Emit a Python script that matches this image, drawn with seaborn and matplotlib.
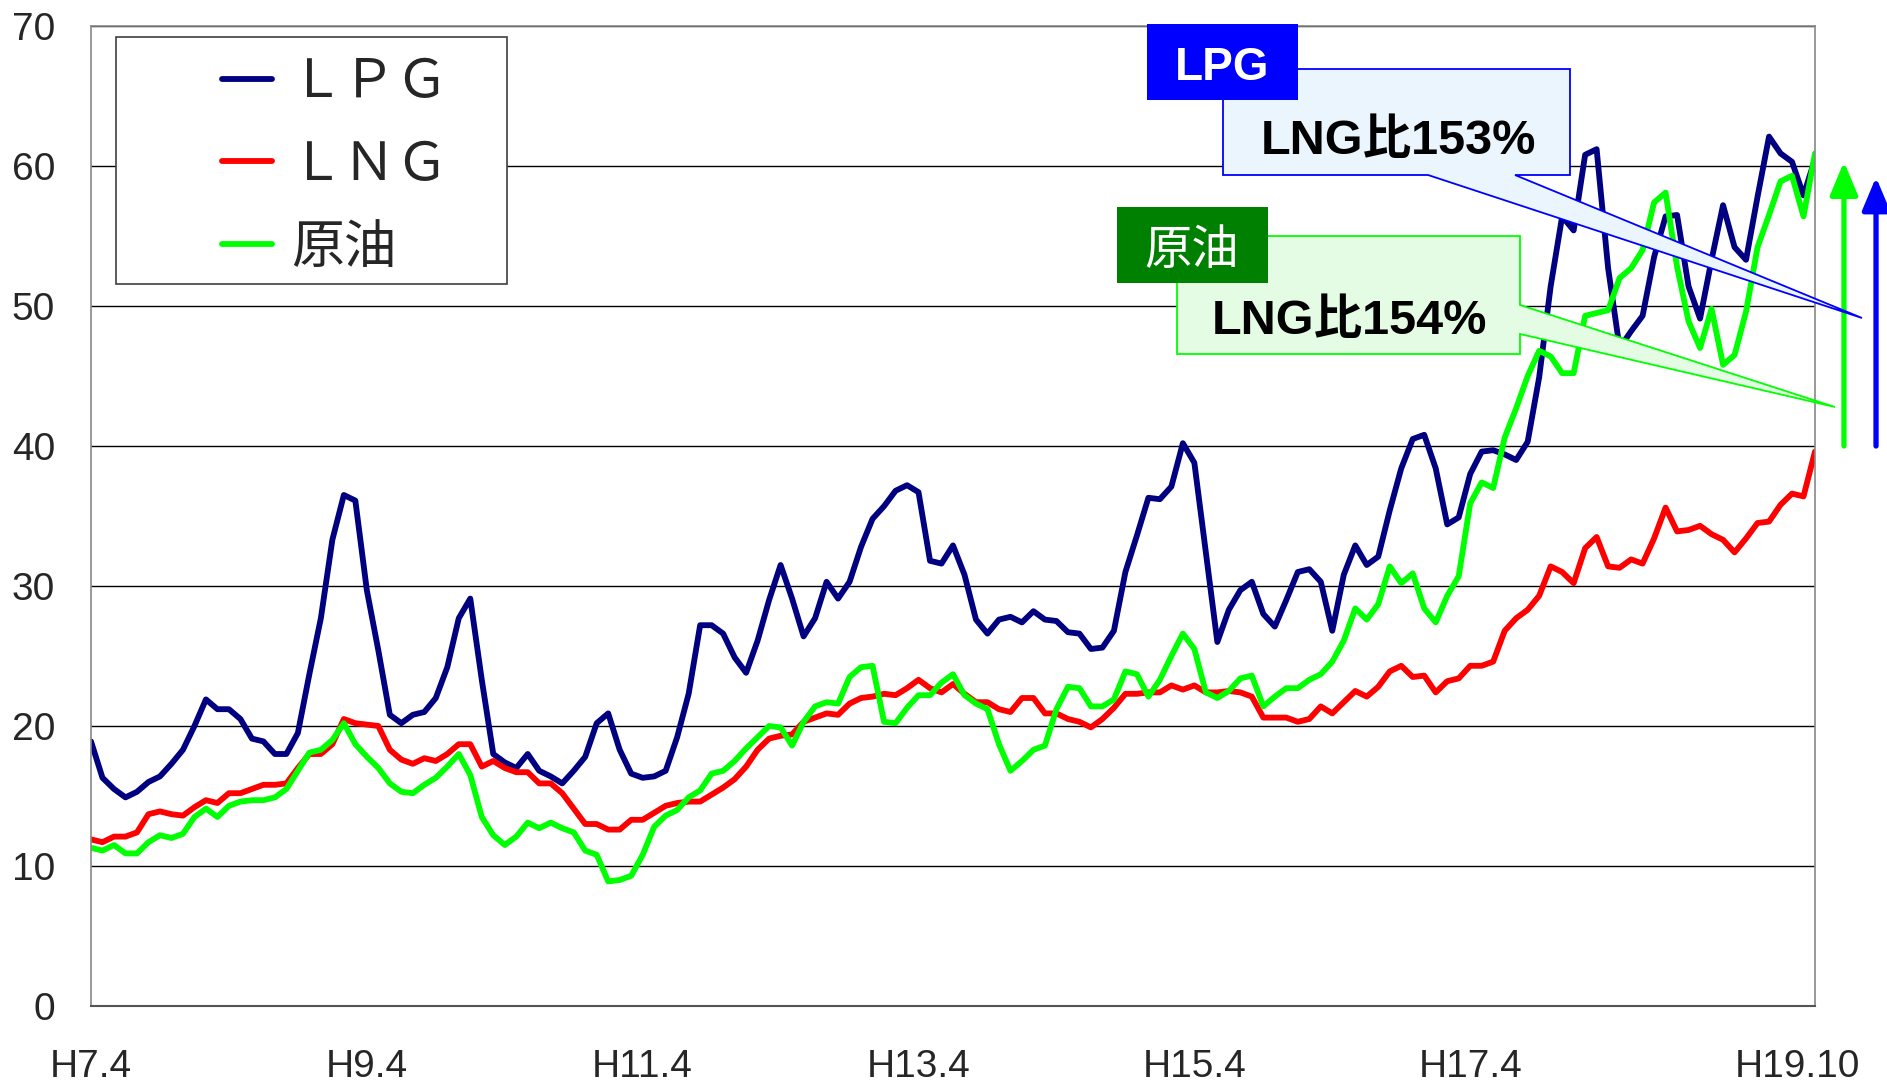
import numpy as np
import pandas as pd
import matplotlib
matplotlib.use('Agg')
import matplotlib.pyplot as plt
from matplotlib.patches import Polygon, Rectangle
from matplotlib.lines import Line2D
from matplotlib.transforms import Affine2D
from matplotlib.font_manager import FontProperties
import seaborn as sns

# monthly index, H7.4 (0) .. H19.10 (150)
months = np.arange(151)

lpg = [18.9, 16.3, 15.5, 14.9, 15.3, 16.0, 16.4, 17.3, 18.3, 20.0,
       21.9, 21.2, 21.2, 20.5, 19.1, 18.9, 18.0, 18.0, 19.5, 23.7,
       27.7, 33.3, 36.5, 36.1, 29.7, 25.4, 20.8, 20.2, 20.8, 21.0,
       22.0, 24.2, 27.7, 29.1, 23.3, 18.0, 17.4, 17.0, 18.0, 16.8,
       16.4, 15.9, 16.8, 17.8, 20.2, 20.9, 18.3, 16.6, 16.3, 16.4,
       16.8, 19.2, 22.3, 27.2, 27.2, 26.6, 24.9, 23.8, 26.1, 29.0,
       31.5, 29.1, 26.4, 27.7, 30.3, 29.1, 30.3, 32.8, 34.8, 35.7,
       36.8, 37.2, 36.7, 31.8, 31.6, 32.9, 30.8, 27.6, 26.6, 27.6,
       27.8, 27.4, 28.2, 27.6, 27.5, 26.7, 26.6, 25.5, 25.6, 26.8,
       31.0, 33.6, 36.3, 36.2, 37.1, 40.2, 38.8, 32.4, 26.0, 28.3,
       29.7, 30.3, 28.0, 27.1, 29.0, 31.0, 31.2, 30.3, 26.8, 30.8,
       32.9, 31.5, 32.1, 35.4, 38.4, 40.5, 40.8, 38.4, 34.4, 34.9,
       38.0, 39.6, 39.7, 39.4, 39.0, 40.3, 44.9, 51.4, 56.4, 55.4,
       60.8, 61.2, 52.7, 47.0, 48.2, 49.3, 53.5, 56.4, 56.5, 51.4,
       49.1, 53.3, 57.2, 54.2, 53.3, 57.8, 62.1, 60.9, 60.3, 57.9,
       60.5]

lng = [11.9, 11.7, 12.1, 12.1, 12.4, 13.7, 13.9, 13.7, 13.6, 14.2,
       14.7, 14.5, 15.2, 15.2, 15.5, 15.8, 15.8, 15.9, 17.0, 18.0,
       18.0, 18.7, 20.5, 20.2, 20.1, 20.0, 18.3, 17.6, 17.3, 17.7,
       17.5, 18.0, 18.7, 18.7, 17.1, 17.5, 17.0, 16.7, 16.7, 15.9,
       15.9, 15.2, 14.1, 13.0, 13.0, 12.6, 12.6, 13.3, 13.3, 13.8,
       14.3, 14.5, 14.6, 14.6, 15.1, 15.6, 16.2, 17.1, 18.3, 19.1,
       19.3, 19.4, 20.3, 20.6, 20.9, 20.8, 21.6, 22.0, 22.1, 22.3,
       22.2, 22.7, 23.3, 22.7, 22.4, 23.0, 22.3, 21.7, 21.7, 21.2,
       21.0, 22.0, 22.0, 20.9, 20.9, 20.5, 20.3, 19.9, 20.5, 21.3,
       22.3, 22.3, 22.4, 22.4, 22.9, 22.6, 22.9, 22.4, 22.4, 22.5,
       22.4, 22.1, 20.6, 20.6, 20.6, 20.3, 20.5, 21.4, 20.9, 21.7,
       22.5, 22.1, 22.8, 23.9, 24.3, 23.5, 23.6, 22.4, 23.2, 23.4,
       24.3, 24.3, 24.6, 26.8, 27.7, 28.3, 29.3, 31.4, 31.0, 30.2,
       32.7, 33.5, 31.4, 31.3, 31.9, 31.6, 33.4, 35.6, 33.9, 34.0,
       34.3, 33.7, 33.3, 32.4, 33.4, 34.5, 34.6, 35.8, 36.6, 36.4,
       39.6]

crude = [11.3, 11.1, 11.5, 10.9, 10.9, 11.7, 12.2, 12.0, 12.3, 13.5,
         14.1, 13.5, 14.3, 14.6, 14.7, 14.7, 14.9, 15.5, 16.8, 18.1,
         18.3, 19.0, 20.2, 18.7, 17.8, 17.0, 15.9, 15.3, 15.2, 15.8,
         16.3, 17.1, 18.0, 16.5, 13.5, 12.2, 11.5, 12.1, 13.1, 12.7,
         13.1, 12.7, 12.4, 11.1, 10.8, 8.9, 9.0, 9.3, 10.8, 12.8,
         13.6, 14.0, 14.9, 15.4, 16.6, 16.8, 17.5, 18.4, 19.2, 20.0,
         19.9, 18.6, 20.3, 21.4, 21.7, 21.6, 23.5, 24.2, 24.3, 20.3,
         20.2, 21.3, 22.2, 22.2, 23.1, 23.7, 22.2, 21.6, 21.2, 18.7,
         16.8, 17.5, 18.3, 18.6, 21.2, 22.8, 22.7, 21.4, 21.4, 21.9,
         23.9, 23.7, 22.1, 23.3, 25.0, 26.6, 25.5, 22.4, 22.0, 22.5,
         23.4, 23.6, 21.4, 22.1, 22.7, 22.7, 23.3, 23.7, 24.6, 26.1,
         28.4, 27.6, 28.7, 31.4, 30.2, 30.9, 28.4, 27.4, 29.3, 30.7,
         35.9, 37.4, 37.0, 40.6, 42.7, 45.0, 46.8, 46.4, 45.2, 45.2,
         49.3, 49.5, 49.7, 52.0, 52.7, 54.0, 57.4, 58.1, 52.8, 48.9,
         47.0, 49.8, 45.8, 46.5, 49.6, 54.2, 56.5, 58.9, 59.3, 56.4,
         60.9]

series_names = ['ＬＰＧ', 'ＬＮＧ', '原油']
series_colors = ['#000080', '#FF0000', '#00FF00']
tick_labels = ['H7.4', 'H9.4', 'H11.4', 'H13.4', 'H15.4', 'H17.4']
end_label = 'H19.10'
lpg_ratio_text = 'LNG比153%'
crude_ratio_text = 'LNG比154%'

df = pd.DataFrame({
    'month': np.tile(months, 3),
    'value': lpg + lng + crude,
    'series': np.repeat(series_names, len(months)),
})

sns.set_style('white')
plt.rcParams['font.family'] = ['Liberation Sans', 'Noto Sans CJK JP', 'DejaVu Sans']

W, H = 1887, 1091
fig = plt.figure(figsize=(W / 100, H / 100), dpi=100)
ax = fig.add_axes([91 / W, 1 - 1006 / H, (1815 - 91) / W, (1006 - 26) / H])

sns.lineplot(data=df, x='month', y='value', hue='series', hue_order=series_names,
             palette=dict(zip(series_names, series_colors)), linewidth=4.2,
             legend=False, ax=ax)

ax.set_xlim(0, 150)
ax.set_ylim(0, 70)
ax.set_xlabel('')
ax.set_ylabel('')

narrow = FontProperties(family=['Liberation Sans Narrow', 'Liberation Sans'], size=28)

ax.set_yticks(range(0, 71, 10))
ax.set_yticklabels([str(v) for v in range(0, 71, 10)], fontproperties=narrow)
xt = list(range(0, 145, 12))
xl = []
for k in range(len(xt)):
    xl.append(tick_labels[k // 2] if k % 2 == 0 and k // 2 < len(tick_labels) else '')
ax.set_xticks(xt)
ax.set_xticklabels(xl, fontproperties=narrow)
ax.annotate(end_label, xy=(148.5, 0), xycoords=('data', 'axes fraction'),
            xytext=(0, -31), textcoords='offset points', ha='center', va='top',
            fontproperties=narrow)

ax.tick_params(axis='x', direction='in', length=9, width=1, color='#555555', pad=31)
ax.tick_params(axis='y', direction='in', length=9, width=1, color='#888888', pad=26)
ax.yaxis.grid(True, color='black', linewidth=1.0)
ax.xaxis.grid(False)
ax.set_axisbelow(True)
for side in ['left', 'top', 'right']:
    ax.spines[side].set_color('#888888')
    ax.spines[side].set_linewidth(1.2)
ax.spines['bottom'].set_color('#555555')
ax.spines['bottom'].set_linewidth(1.5)

# pixel transform (top-left origin) for decorations
px = Affine2D().scale(1 / W, -1 / H).translate(0, 1) + fig.transFigure

# legend
fig.patches.append(Rectangle((116, 37), 391, 247, transform=px, facecolor='white',
                             edgecolor='#404040', linewidth=1.2, zorder=1))
handles = [Line2D([], [], color=c, lw=4.2, solid_capstyle='round') for c in series_colors]
fig.legend(handles, series_names, loc='upper left',
           bbox_to_anchor=(222 / W, 1 - 54 / H), frameon=False,
           prop=FontProperties(family=['Noto Sans CJK JP'], size=38),
           handlelength=0.95, handletextpad=0.35, labelspacing=0.53,
           borderpad=0, borderaxespad=0)

# LPG callout
fig.patches.append(Polygon([(1223, 69), (1570, 69), (1570, 175), (1515, 175),
                            (1862, 318), (1428, 175), (1223, 175)], closed=True,
                           transform=px, facecolor='#EAF5FD', edgecolor='#0000FF',
                           linewidth=1.3, zorder=2))
fig.patches.append(Rectangle((1147, 24), 151, 76, transform=px, facecolor='#0000FF',
                             edgecolor='none', zorder=3))
fig.text(1222 / W, 1 - 68 / H, 'LPG', color='white', fontsize=33, fontweight='bold',
         ha='center', va='center', zorder=4)
fig.text(1398 / W, 1 - 142 / H, lpg_ratio_text, color='black', fontsize=35,
         fontweight='bold', ha='center', va='center', zorder=4)

# crude callout
fig.patches.append(Polygon([(1177, 236), (1520, 236), (1520, 305), (1835, 407),
                            (1520, 334), (1520, 354), (1177, 354)], closed=True,
                           transform=px, facecolor='#E3FCE3', edgecolor='#00FF00',
                           linewidth=1.3, zorder=2))
fig.patches.append(Rectangle((1117, 207), 151, 76, transform=px, facecolor='#008000',
                             edgecolor='none', zorder=3))
fig.text(1192 / W, 1 - 251 / H, '原油', color='white', fontsize=34,
         family=['Noto Sans CJK JP'], ha='center', va='center', zorder=4)
fig.text(1349 / W, 1 - 321 / H, crude_ratio_text, color='black', fontsize=35,
         fontweight='bold', ha='center', va='center', zorder=4)

# rise arrows from the LNG level
yx = ax.get_yaxis_transform()
for xf, top, col in [(1.0168, 60.3, '#00FF00'), (1.0354, 59.2, '#0000FF')]:
    ax.annotate('', xy=(xf, top), xytext=(xf, 40), xycoords=yx,
                arrowprops=dict(arrowstyle='-|>,head_length=1.0,head_width=0.42',
                                mutation_scale=20, color=col, lw=3.8,
                                shrinkA=0, shrinkB=0),
                annotation_clip=False)

fig.savefig('out.png', dpi=100)
